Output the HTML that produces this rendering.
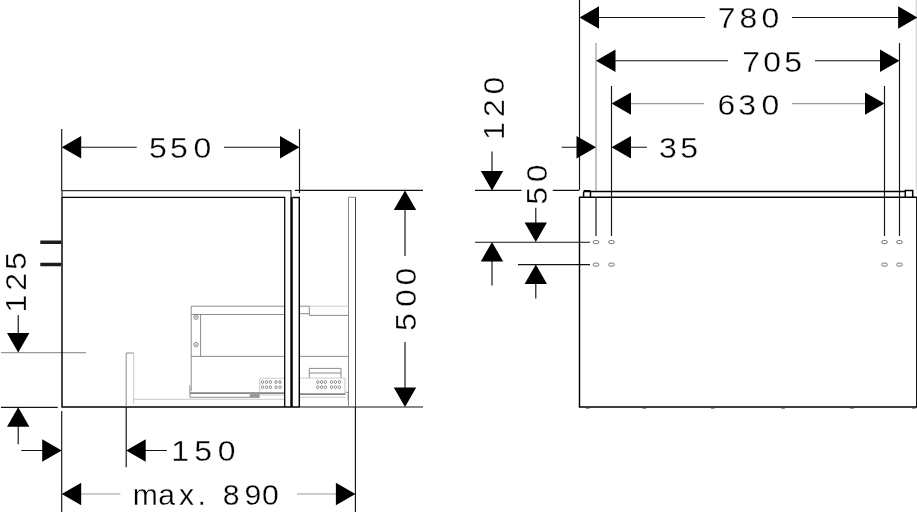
<!DOCTYPE html>
<html lang="en"><head><meta charset="utf-8"><title>Dimension drawing</title>
<style>
html,body{margin:0;padding:0;background:#fff;}
body{width:917px;height:512px;overflow:hidden;}
svg{display:block;will-change:transform;filter:grayscale(1);}
text{font-family:"Liberation Sans",sans-serif;font-size:29.3px;fill:#000;stroke:#fff;stroke-width:0.3px;}
.d{stroke:#111;stroke-width:1.15;fill:none;}
.g{stroke:#9a9a9a;stroke-width:1.2;fill:none;}
.k{stroke:#000;stroke-width:1.45;fill:none;}
.t{stroke:#808080;stroke-width:0.9;fill:none;}
.l{stroke:#c4c4c4;stroke-width:0.9;fill:none;}
.a{fill:#000;stroke:none;}
</style></head><body>
<svg width="917" height="512" viewBox="0 0 917 512">
<rect width="917" height="512" fill="#fff"/>

<g class="d">
<path d="M61.7 129V191M299.5 129V193"/>
<path d="M81 147.2H136.7M224 147.2H280"/>
<path d="M295 190.3H423"/>
<path d="M405 209V256M405 342V389"/>
<path d="M299 407H423"/>
<path d="M1 407.3H57.7"/>
<path d="M18.2 315V335M18.2 425V444.2"/>
<path d="M21.3 450.5H43M145 450.5H166.8"/>
<path d="M61.7 411V512M126.2 407V467.3M355.4 407V512"/>
</g>
<g class="g">
<path d="M1 352.6H86"/>
<path d="M81 494H120.4M297 494H336.6"/>
</g>
<g class="a">
<polygon points="61.7,147.2 81.2,136.0 81.2,158.4"/>
<polygon points="299.5,147.2 280.0,136.0 280.0,158.4"/>
<polygon points="405.0,190.5 393.8,210.0 416.2,210.0"/>
<polygon points="405.0,407.0 393.8,387.5 416.2,387.5"/>
<polygon points="18.2,352.6 7.0,333.1 29.4,333.1"/>
<polygon points="18.2,407.3 7.0,426.8 29.4,426.8"/>
<polygon points="61.7,450.5 42.2,439.3 42.2,461.7"/>
<polygon points="126.2,450.5 145.7,439.3 145.7,461.7"/>
<polygon points="61.7,494.0 81.2,482.8 81.2,505.2"/>
<polygon points="355.4,494.0 335.9,482.8 335.9,505.2"/>
</g>
<g class="k">
<path d="M62 197V407H299.5"/>
<path d="M62 197.3V190.6H291V407" stroke="#333" stroke-width="1.25"/>
<path d="M62 197.35H284.7V407" stroke-width="1.25"/>
<path d="M292.7 197.5H299.3V407"/>
</g>
<path d="M291.7 197V407" stroke="#000" stroke-width="2.1" fill="none"/>
<path d="M40.3 242.3H61.3M40.3 264.6H61.3" stroke="#1c1c1c" stroke-width="3.5" fill="none"/>
<g class="t">
<path d="M348.5 197.3V407M348.5 197.3H355.5"/>
<path d="M126.2 407V353H133.7"/>
<path d="M191.2 391V306.2H284M191.2 314.5H284M200.6 314.5V356.4M191.2 356.4H284"/>
<circle cx="196" cy="317.2" r="2.2"/><circle cx="196" cy="344.7" r="2.2"/>
<path d="M194.8 316L197.2 318.4M197.2 316L194.8 318.4M194.8 343.5L197.2 345.9M197.2 343.5L194.8 345.9" stroke-width="0.6"/>
<path d="M300 306.2H309.3V315.4H348.4M300 313.7H309.3M300 356.4H348.4"/>
<path d="M309.3 378V368.4H341V378M309.3 373H341"/>
<path d="M189.9 385.5V397.3H259.6"/>
<path d="M345.4 392.3H348.2V400.6"/>
</g>
<path d="M355.5 197.3V407" stroke="#444" stroke-width="1" fill="none"/>
<g class="l">
<path d="M133.7 353V404.5M133.7 399.3H284"/>
<path d="M309.3 306.2H348.4"/>
<path d="M284 378.2H261Q259.7 378.2 259.7 379.5V392.3"/>
<path d="M300 378.1H344.9V393"/>
<path d="M260 395H284"/>
<path d="M300 397.3H345.4"/>
</g>
<path d="M189.9 393.2H284M300 394.2H345.4" stroke="#858585" stroke-width="1.7" fill="none"/>
<rect x="249.8" y="392.4" width="9.8" height="5" fill="#999"/>
<g fill="none" stroke="#777" stroke-width="0.8">
<ellipse cx="262.5" cy="382.0" rx="1.2" ry="1.5"/>
<ellipse cx="266.5" cy="382.0" rx="1.2" ry="1.5"/>
<ellipse cx="270.4" cy="382.0" rx="1.2" ry="1.5"/>
<ellipse cx="276.0" cy="382.0" rx="1.2" ry="1.5"/>
<ellipse cx="280.0" cy="382.0" rx="1.2" ry="1.5"/>
<ellipse cx="317.8" cy="382.0" rx="1.2" ry="1.5"/>
<ellipse cx="321.6" cy="382.0" rx="1.2" ry="1.5"/>
<ellipse cx="325.4" cy="382.0" rx="1.2" ry="1.5"/>
<ellipse cx="331.5" cy="382.0" rx="1.2" ry="1.5"/>
<ellipse cx="335.4" cy="382.0" rx="1.2" ry="1.5"/>
<ellipse cx="339.4" cy="382.0" rx="1.2" ry="1.5"/>
<ellipse cx="262.5" cy="387.2" rx="1.2" ry="1.5"/>
<ellipse cx="266.5" cy="387.2" rx="1.2" ry="1.5"/>
<ellipse cx="270.4" cy="387.2" rx="1.2" ry="1.5"/>
<ellipse cx="276.0" cy="387.2" rx="1.2" ry="1.5"/>
<ellipse cx="280.0" cy="387.2" rx="1.2" ry="1.5"/>
<ellipse cx="317.8" cy="387.2" rx="1.2" ry="1.5"/>
<ellipse cx="321.6" cy="387.2" rx="1.2" ry="1.5"/>
<ellipse cx="325.4" cy="387.2" rx="1.2" ry="1.5"/>
<ellipse cx="331.5" cy="387.2" rx="1.2" ry="1.5"/>
<ellipse cx="335.4" cy="387.2" rx="1.2" ry="1.5"/>
<ellipse cx="339.4" cy="387.2" rx="1.2" ry="1.5"/>
</g>
<g class="d">
<path d="M579.5 0V190.3M596 197V236"/>
<path d="M611.5 86V236M884.5 86V236M899.5 43V236"/>
<path d="M598.5 17.5H705M792 17.5H898"/>
<path d="M615 60.7H728M815 60.7H881"/>
<path d="M561.6 147.2H577M631 147.2H646.9"/>
<path d="M475 190.3H521.5M552.8 190.3H579"/>
<path d="M475 242.2H590M518 264.6H590"/>
<path d="M492 151.5V172M492 261V285.6M535.8 207.8V223M535.8 284V298.6"/>
</g>
<g class="g">
<path d="M596 43V191"/>
<path d="M631 103.6H704M792 103.6H866"/>
<path d="M916.3 0V190" stroke="#d4d4d4"/>
</g>
<g class="a">
<polygon points="579.5,17.5 599.0,6.3 599.0,28.7"/>
<polygon points="917.6,17.5 898.1,6.3 898.1,28.7"/>
<polygon points="596.0,60.7 615.5,49.5 615.5,71.9"/>
<polygon points="899.5,60.7 880.0,49.5 880.0,71.9"/>
<polygon points="611.5,103.6 631.0,92.4 631.0,114.8"/>
<polygon points="884.5,103.6 865.0,92.4 865.0,114.8"/>
<polygon points="596.0,147.2 576.5,136.0 576.5,158.4"/>
<polygon points="611.5,147.2 631.0,136.0 631.0,158.4"/>
<polygon points="492.0,190.5 480.8,171.0 503.2,171.0"/>
<polygon points="492.0,242.0 480.8,261.5 503.2,261.5"/>
<polygon points="535.8,242.0 524.6,222.5 547.0,222.5"/>
<polygon points="535.8,264.5 524.6,284.0 547.0,284.0"/>
</g>
<g class="k">
<path d="M579.5 197.2H916.8V407H579.5Z"/>
</g>
<path d="M586 408.1H589.5M642.5 408.1H646M711 408.1H714.5M781.3 408.1H784.8M850.3 408.1H853.8M912 408.1H915.5" stroke="#333" stroke-width="0.9" fill="none"/>
<g stroke="#000" stroke-width="1.5" fill="none">
<path d="M583.6 191.4H905.3M583.6 191.4V197M590.5 191.4V197M905.3 197V190.6H912.7V197M583.6 190.8H590.5"/>
</g>
<g fill="#fff" stroke="#666" stroke-width="0.9">
<rect x="593.2" y="240.6" width="5.6" height="3" rx="1.5"/>
<rect x="608.7" y="240.6" width="5.6" height="3" rx="1.5"/>
<rect x="881.7" y="240.6" width="5.6" height="3" rx="1.5"/>
<rect x="896.7" y="240.6" width="5.6" height="3" rx="1.5"/>
<rect x="593.2" y="263.1" width="5.6" height="3" rx="1.5"/>
<rect x="608.7" y="263.1" width="5.6" height="3" rx="1.5"/>
<rect x="881.7" y="263.1" width="5.6" height="3" rx="1.5"/>
<rect x="896.7" y="263.1" width="5.6" height="3" rx="1.5"/>
</g>
<text transform="translate(0 157.8) scale(1.090 1)" x="136.70 156.06 177.43" y="0">550</text>
<text transform="translate(0 28.3) scale(1.090 1)" x="658.53 678.44 698.53" y="0">780</text>
<text transform="translate(0 71.6) scale(1.090 1)" x="680.92 700.18 719.45" y="0">705</text>
<text transform="translate(0 115.0) scale(1.090 1)" x="658.17 677.34 698.72" y="0">630</text>
<text transform="translate(0 157.8) scale(1.090 1)" x="604.68 624.13" y="0">35</text>
<text transform="translate(0 461.3) scale(1.090 1)" x="157.06 178.26 199.72" y="0">150</text>
<text transform="translate(0 504.9) scale(1.030 1)" x="128.83 153.69 173.69 191.65 204.85 216.31 237.48 254.37" y="0">max. 890</text>
<text transform="translate(503.8 0) rotate(-90) scale(1.090 1)" x="-128.44 -107.34 -86.70" y="0">120</text>
<text transform="translate(547.0 0) rotate(-90) scale(1.090 1)" x="-187.80 -167.25" y="0">50</text>
<text transform="translate(416.4 0) rotate(-90) scale(1.090 1)" x="-303.58 -281.65 -261.83" y="0">500</text>
<text transform="translate(26.0 0) rotate(-90) scale(1.090 1)" x="-286.61 -266.79 -247.80" y="0">125</text>
</svg></body></html>
